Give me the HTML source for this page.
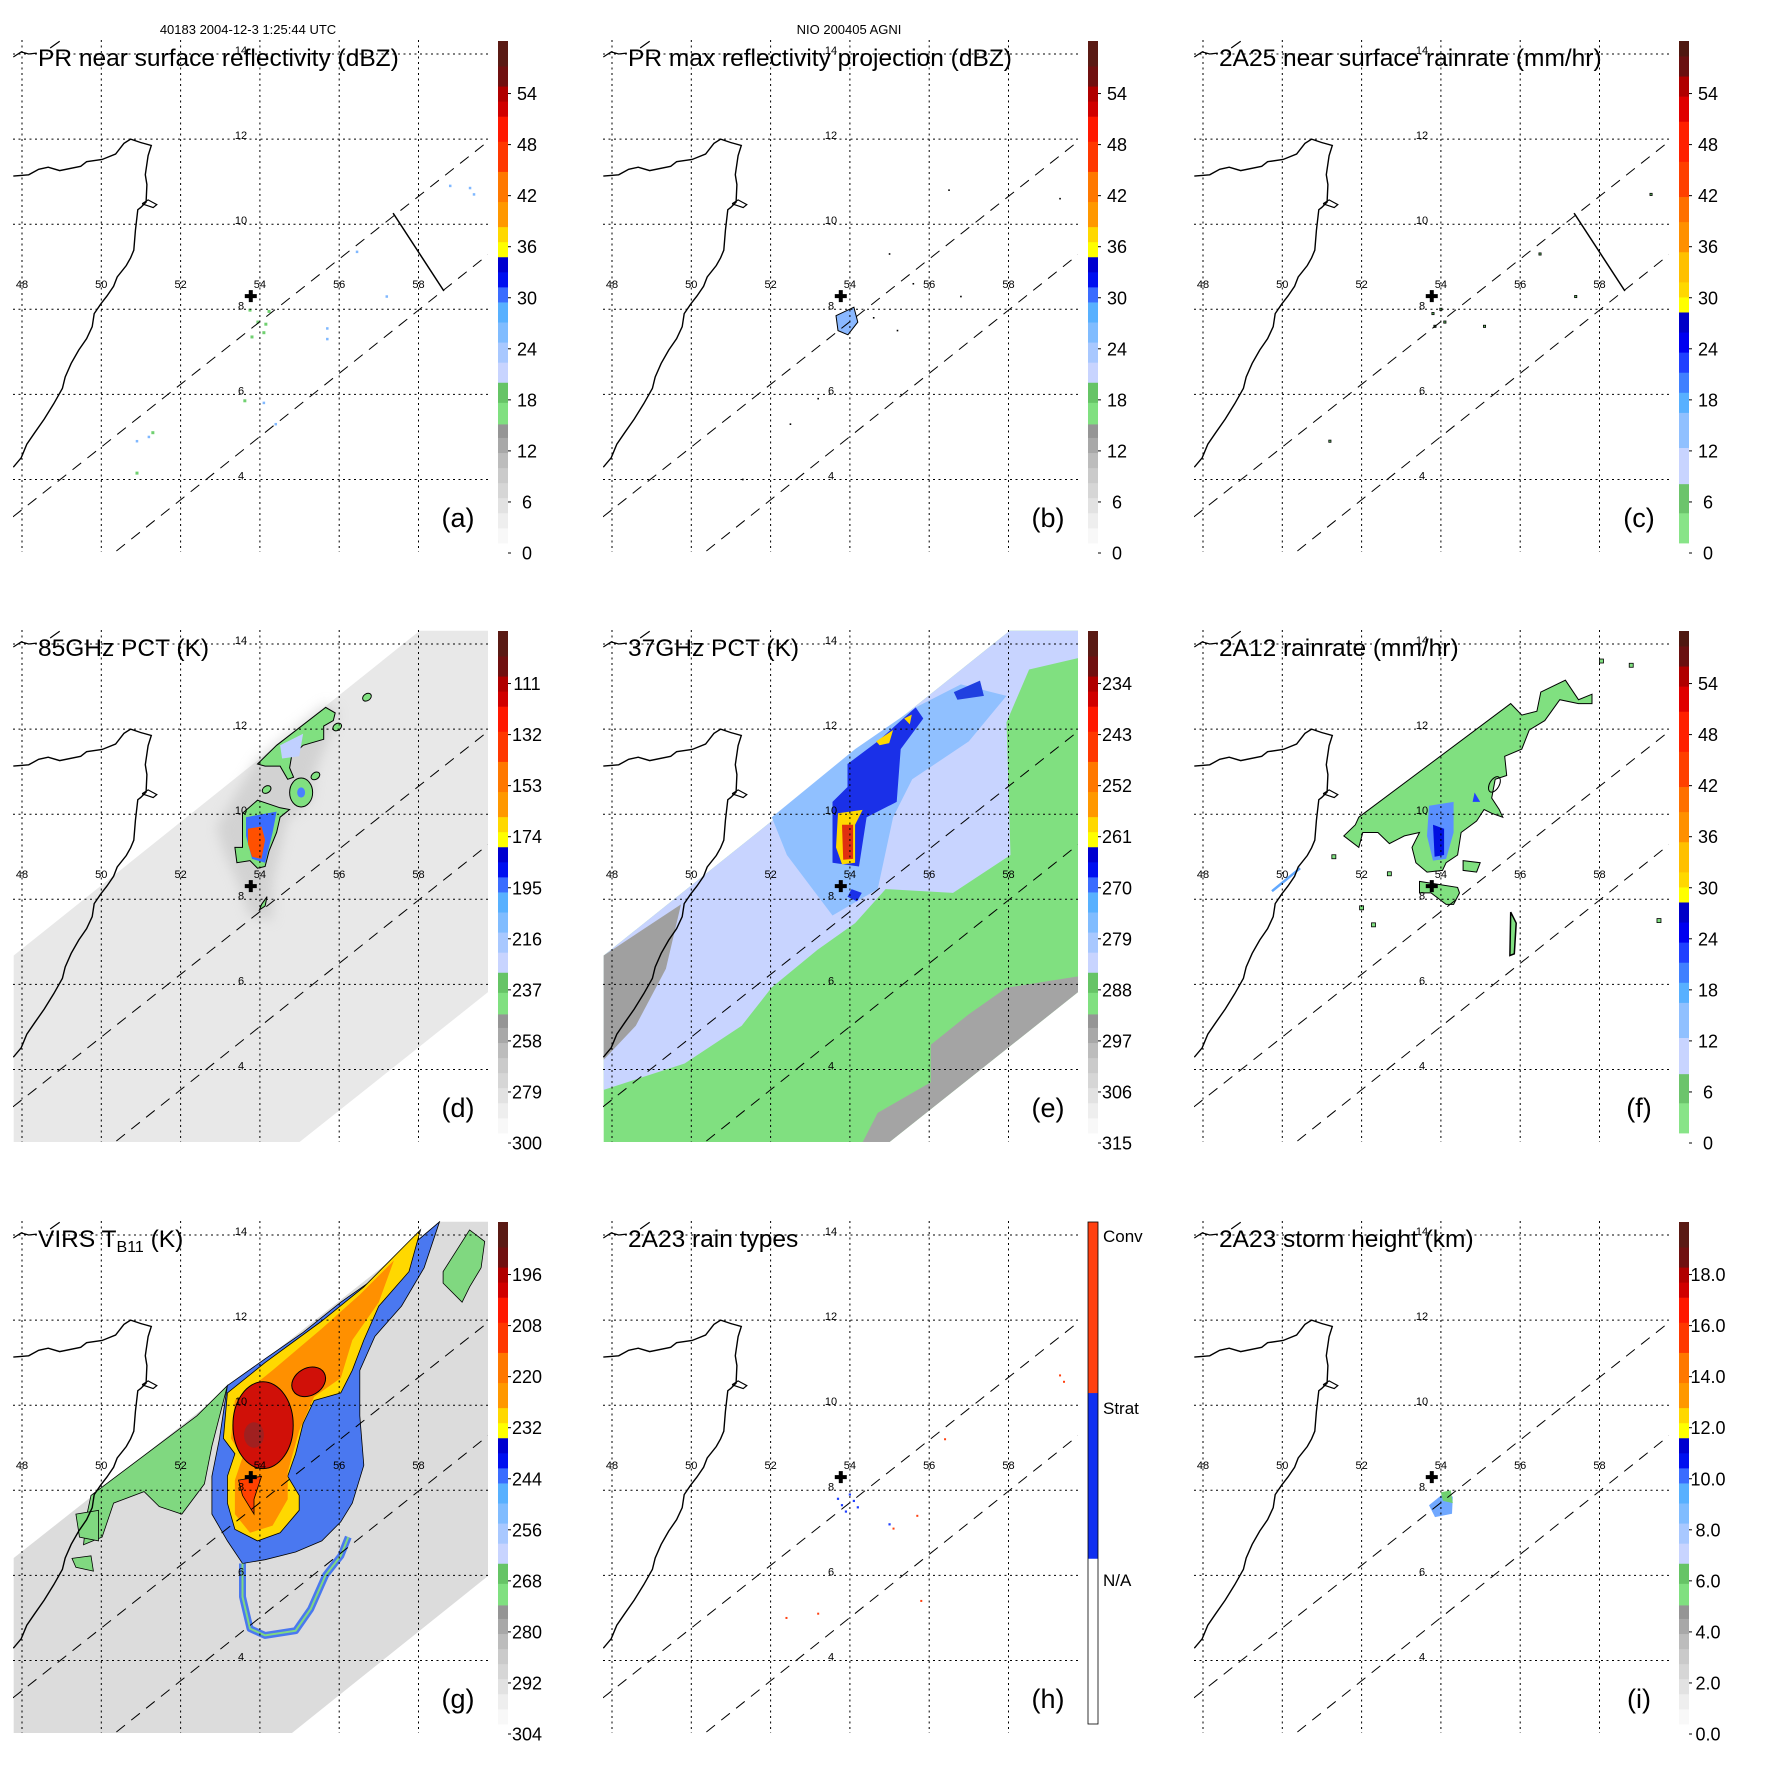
<!DOCTYPE html>
<html><head><meta charset="utf-8"><style>
html,body{margin:0;padding:0;background:#fff;}
svg{display:block;font-family:"Liberation Sans",sans-serif;}
</style></head><body>
<svg id="fig" xmlns="http://www.w3.org/2000/svg" width="1771" height="1771" viewBox="0 0 1771 1771">
<defs><filter id="blur6" x="-50%" y="-50%" width="200%" height="200%"><feGaussianBlur stdDeviation="6"/></filter></defs>
<rect width="1771" height="1771" fill="#fff"/>
</svg>
<script>
// ---------- data ----------
const panelIds=['a','b','c','d','e','f','g','h','i'];
const panelTitles=['PR near surface reflectivity (dBZ)','PR max reflectivity projection (dBZ)','2A25 near surface rainrate (mm/hr)','85GHz PCT (K)','37GHz PCT (K)','2A12 rainrate (mm/hr)','VIRS T','2A23 rain types','2A23 storm height (km)'];
const ticksA=['0','6','12','18','24','30','36','42','48','54'];
const ticksC=['0','6','12','18','24','30','36','42','48','54'];
const ticksD=['300','279','258','237','216','195','174','153','132','111'];
const ticksE=['315','306','297','288','279','270','261','252','243','234'];
const ticksG=['304','292','280','268','256','244','232','220','208','196'];
const ticksI=['0.0','2.0','4.0','6.0','8.0','10.0','12.0','14.0','16.0','18.0'];
const ticksH=['N/A','Strat','Conv'];
const lonTicks=[48,50,52,54,56,58];
const latTicks=[14,12,10,8,6,4];
const palA=[[0,.03,'#f8f8f8'],[.03,.06,'#eeeeee'],[.06,.09,'#e2e2e2'],[.09,.12,'#d6d6d6'],[.12,.15,'#cacaca'],[.15,.18,'#bcbcbc'],[.18,.21,'#a8a8a8'],[.21,.237,'#959595'],[.237,.28,'#80e080'],[.28,.32,'#66c466'],[.32,.36,'#c8d4ff'],[.36,.40,'#a8c8ff'],[.40,.44,'#80bcff'],[.44,.48,'#58b0ff'],[.48,.51,'#3a6cff'],[.51,.54,'#0010f0'],[.54,.57,'#0000d0'],[.57,.60,'#ffff00'],[.60,.63,'#ffd800'],[.63,.68,'#ff9800'],[.68,.74,'#ff7800'],[.74,.80,'#ff3800'],[.80,.85,'#ff1800'],[.85,.88,'#d00000'],[.88,.91,'#b00000'],[.91,.95,'#701010'],[.95,1,'#5a1a14']];
const palR=[[0,.06,'#88e488'],[.06,.118,'#6cc46c'],[.118,.19,'#c8d4ff'],[.19,.26,'#90c0ff'],[.26,.30,'#58b0ff'],[.30,.34,'#4080ff'],[.34,.38,'#2040ff'],[.38,.42,'#0000f0'],[.42,.46,'#0000c8'],[.46,.49,'#ffff00'],[.49,.52,'#ffd800'],[.52,.58,'#ffc000'],[.58,.64,'#ff9000'],[.64,.69,'#ff7000'],[.69,.76,'#ff4000'],[.76,.84,'#ff2000'],[.84,.89,'#e00000'],[.89,.93,'#b00000'],[.93,.97,'#6a1010'],[.97,1,'#501810']];
const palH=[[0,.33,'#ffffff'],[.33,.66,'#1030f0'],[.66,1,'#ff4010']];
const coast=[[47.78,11.13],[48.17,11.16],[48.42,11.29],[48.66,11.34],[48.95,11.26],[49.48,11.36],[49.63,11.47],[50.02,11.52],[50.36,11.65],[50.57,11.9],[50.74,12.0],[50.99,11.92],[51.26,11.85],[51.18,11.61],[51.11,11.16],[51.15,10.93],[51.13,10.52],[50.99,10.39],[50.92,10.34],[50.86,9.85],[50.82,9.39],[50.74,9.21],[50.63,9.03],[50.4,8.76],[50.31,8.54],[50.14,8.31],[49.99,8.13],[49.82,7.9],[49.77,7.59],[49.63,7.31],[49.43,7.04],[49.24,6.73],[49.09,6.41],[49.02,6.14],[48.8,5.78],[48.56,5.42],[48.32,5.1],[48.12,4.83],[47.98,4.51],[47.78,4.29]];
const island=[[51.03,10.48],[51.18,10.57],[51.4,10.46],[51.31,10.39],[51.03,10.48]];
const coastTop=[[47.78,13.93],[47.98,14.05],[48.17,14.0],[48.37,14.02]];
const coastTop2=[[48.71,14.14],[48.95,14.3]];
const swathLine1=[[47.77,3.12],[59.73,11.93]];
const swathLine2=[[50.38,2.32],[59.75,9.28]];
const crossLine=[[57.36,10.26],[58.64,8.43]];
const stormCenter=[53.77,8.31];
const tmiSwath=[[47.79,6.68],[58.03,14.31],[59.77,14.31],[59.77,5.83],[54.99,2.29],[47.79,2.29]];
const virsSwath=[[47.79,6.41],[58.53,14.31],[59.77,14.31],[59.77,6.0],[54.8,2.29],[47.79,2.29]];
const eLight=[[59.77,14.31],[59.77,13.67],[58.52,13.4],[57.95,12.16],[58.05,9.04],[56.6,8.15],[54.9,8.24],[54.13,7.44],[53.18,6.81],[52.03,5.93],[51.27,5.03],[49.83,4.14],[47.79,3.52],[47.79,6.68],[58.03,14.31]];
const eGreyL=[[47.79,6.68],[49.74,7.88],[49.36,6.37],[48.6,5.03],[47.79,4.23]];
const eMid=[[52.03,9.93],[54.13,11.53],[55.66,12.51],[56.8,13.05],[57.95,12.78],[57.0,11.71],[55.57,10.82],[55.09,9.93],[54.7,8.24],[53.56,7.62],[52.41,9.04]];
const eDark=[[53.94,11.18],[54.7,11.71],[55.66,12.51],[55.85,12.25],[55.28,11.53],[55.18,10.29],[54.42,9.93],[54.23,8.77],[53.56,8.86],[53.56,10.29],[53.94,10.64]];
const eDark2=[[54.04,8.24],[54.3,8.15],[54.18,7.95],[53.94,8.06]];
const eDark3=[[56.62,12.87],[57.28,13.14],[57.38,12.78],[56.71,12.69]];
const eYellow=[[53.7,10.02],[54.32,10.1],[54.13,9.75],[54.13,8.86],[53.8,8.82],[53.65,9.22]];
const eRed=[[53.8,9.75],[54.08,9.75],[54.08,8.95],[53.83,8.93]];
const eY2=[[54.66,11.71],[55.09,11.98],[54.99,11.67],[54.75,11.62]];
const eY3=[[55.37,12.25],[55.56,12.34],[55.51,12.11]];
const eGreyR=[[56.04,4.58],[57.0,5.3],[57.95,5.92],[59.77,6.19],[59.77,5.83],[54.99,2.29],[54.32,2.29],[54.7,2.98],[56.04,3.7]];
const dHalo=[[52.9,9.7],[53.94,11.3],[55.66,12.6],[56.0,12.4],[55.4,11.0],[55.3,10.3],[54.7,9.9],[54.32,8.4],[54.32,7.5],[53.75,7.6],[53.4,8.5],[53.1,9.1]];
const dNorth=[[53.94,11.18],[54.42,11.62],[55.66,12.51],[55.9,12.38],[55.85,12.2],[55.61,12.07],[55.61,11.76],[55.09,11.62],[54.8,11.36],[54.75,11.09],[54.85,10.87],[54.7,10.82],[54.51,11.13],[54.13,11.13]];
const dNorthBlue=[[54.51,11.62],[55.09,11.89],[54.99,11.36],[54.56,11.31]];
const dMain=[[53.56,10.02],[53.94,10.33],[54.51,10.15],[54.75,10.11],[54.51,9.93],[54.42,9.57],[54.23,9.13],[54.13,8.77],[53.94,8.73],[53.75,8.91],[53.42,8.86],[53.37,9.22],[53.56,9.22],[53.56,9.66]];
const dMainBlue=[[53.65,9.93],[54.42,10.06],[54.32,9.57],[54.13,8.86],[53.8,8.95],[53.65,9.49]];
const dMainRed=[[53.7,9.66],[54.04,9.71],[54.13,9.4],[54.04,8.95],[53.8,9.0],[53.7,9.3]];
const dSouth=[[54.04,7.88],[54.18,8.06],[54.13,7.84],[53.99,7.75]];
const dMid=[55.04,10.51];
const dSmall=[[56.7,12.75],[55.95,12.05],[54.17,10.58],[55.4,10.9]];
const fGreen=[[51.93,9.93],[55.76,12.6],[56.04,12.33],[56.42,12.42],[56.52,12.87],[57.14,13.15],[57.47,12.69],[57.81,12.82],[57.81,12.6],[57.47,12.6],[57.0,12.69],[56.62,12.2],[56.23,11.98],[56.04,11.53],[55.61,11.36],[55.66,10.91],[55.37,10.82],[55.28,10.38],[55.47,10.11],[55.56,9.93],[55.28,10.02],[55.09,10.11],[54.9,9.84],[54.51,9.57],[54.42,9.04],[54.13,8.86],[54.04,8.68],[53.65,8.64],[53.37,8.86],[53.27,9.22],[53.46,9.57],[53.08,9.49],[52.7,9.31],[52.41,9.57],[52.03,9.57],[51.93,9.22],[51.55,9.49],[51.84,9.75]];
const fBlue=[[53.7,10.2],[54.32,10.29],[54.32,9.57],[54.13,8.95],[53.8,8.91],[53.65,9.49]];
const fDark=[[53.8,9.75],[54.08,9.66],[54.08,9.04],[53.84,9.0]];
const fBlue2=[[54.85,10.51],[54.99,10.29],[54.8,10.29]];
const fSouth=[[53.46,8.42],[54.42,8.28],[54.47,8.15],[54.32,7.88],[54.13,7.88],[53.75,8.15],[53.46,8.15]];
const fSmall=[[54.56,8.91],[54.99,8.86],[54.9,8.64],[54.56,8.68]];
const fLong=[[55.76,7.7],[55.9,7.44],[55.85,6.72],[55.74,6.68]];
const fDots=[[58.05,13.6],[58.8,13.5],[52.0,7.8],[52.3,7.4],[59.5,7.5],[51.3,9.0],[52.7,8.6]];
const fLine=[[49.74,8.19],[50.45,8.73]];
const gGreen=[[49.74,7.88],[52.41,9.75],[53.18,10.46],[52.79,9.04],[52.6,8.15],[52.03,7.44],[51.46,7.62],[51.08,7.97],[50.31,7.7],[50.02,6.9],[49.55,6.72],[49.64,7.44]];
const gBlue=[[53.18,10.46],[54.13,11.09],[55.09,11.71],[56.04,12.42],[57.0,13.05],[57.95,13.85],[58.53,14.31],[58.14,13.23],[57.57,12.33],[56.9,11.62],[56.52,10.82],[56.52,9.75],[56.62,8.59],[56.33,7.7],[56.04,7.26],[55.56,6.81],[54.9,6.55],[54.13,6.37],[53.56,6.28],[53.18,6.81],[52.79,7.44],[52.79,8.33],[52.98,9.22]];
const gYellow=[[53.18,10.29],[54.13,11.0],[55.56,11.98],[56.62,12.78],[57.76,13.85],[58.05,14.12],[57.76,13.14],[57.0,12.33],[56.62,11.53],[56.33,10.82],[56.04,10.29],[55.37,10.11],[55.09,9.57],[54.9,8.86],[54.7,8.33],[54.99,7.88],[54.99,7.53],[54.51,7.0],[53.94,6.81],[53.37,7.08],[53.18,7.7],[53.18,8.33],[53.37,8.86],[53.08,9.22]];
const gOrange=[[53.37,10.11],[54.32,10.82],[55.56,11.8],[56.52,12.6],[57.38,13.4],[57.0,12.42],[56.33,11.53],[56.04,10.64],[55.37,10.2],[54.99,9.4],[54.7,8.42],[54.7,7.79],[54.32,7.17],[53.75,7.0],[53.37,7.44],[53.37,8.24],[53.56,8.77],[53.27,9.22]];
const gRedBig=[54.08,9.53];
const gRed2=[55.23,10.55];
const gRedLow=[[53.46,8.24],[54.04,8.33],[53.85,7.79],[53.85,7.44],[53.56,7.88]];
const gRing=[[53.56,6.28],[53.56,5.5],[53.75,4.75],[54.13,4.59],[54.9,4.7],[55.28,5.21],[55.66,6.01],[56.04,6.46],[56.23,6.9]];
const gNE=[[58.62,13.14],[59.29,14.12],[59.67,13.85],[59.58,13.23],[59.29,12.78],[59.1,12.42],[58.62,12.87]];
const gLeft1=[[49.36,7.44],[49.93,7.53],[49.93,6.81],[49.45,6.9]];
const gLeft2=[[49.26,6.4],[49.74,6.46],[49.8,6.1],[49.36,6.19]];
const aGreen=[[53.75,7.98],[54.23,7.95],[54.1,7.45],[53.8,7.35],[53.95,7.7],[54.15,7.65],[53.62,5.85],[51.3,5.1],[50.9,4.15]];
const aBlue=[[58.8,10.9],[59.3,10.85],[59.4,10.7],[56.45,9.35],[57.2,8.3],[55.7,7.55],[55.7,7.3],[50.9,4.9],[51.2,5.0],[54.4,5.3],[54.1,5.8]];
const bBlob=[[53.65,7.85],[54.1,8.05],[54.2,7.7],[53.95,7.4],[53.7,7.5]];
const bDots=[[56.5,10.8],[59.3,10.6],[55.0,9.3],[55.6,8.6],[54.6,7.8],[55.2,7.5],[56.8,8.3],[53.2,5.9],[52.5,5.3],[51.3,4.0]];
const cDots=[[53.8,7.9],[54.0,8.0],[54.1,7.7],[53.85,7.6],[55.1,7.6],[59.3,10.7],[56.5,9.3],[57.4,8.3],[51.2,4.9]];
const hBlue=[[53.7,7.8],[54.0,7.9],[54.2,7.6],[53.9,7.5],[53.8,7.65],[54.1,7.75],[55.0,7.2]];
const hRed=[[59.3,10.7],[59.4,10.55],[56.4,9.2],[55.7,7.4],[55.1,7.1],[53.2,5.1],[52.4,5.0],[55.8,5.4]];
const iBlob=[[53.7,7.65],[54.1,7.95],[54.3,7.85],[54.28,7.45],[53.85,7.37]];
const iGreen=[[54.0,7.95],[54.25,8.0],[54.3,7.7],[54.05,7.75]];

// ---------- helpers ----------
const NS='http://www.w3.org/2000/svg';
const svg=document.getElementById('fig');
function X(lon){return 22+(lon-48)*39.65;}
function Y(lat){return 54+(14-lat)*42.55;}
function pts(a){return a.map(p=>X(p[0]).toFixed(1)+','+Y(p[1]).toFixed(1)).join(' ');}
function mk(tag,parent,attrs){const e=document.createElementNS(NS,tag);for(const k in attrs)e.setAttribute(k,attrs[k]);parent.appendChild(e);return e;}
function poly(g,a,fill,stroke,sw,name){const e=mk('polygon',g,{points:pts(a),fill:fill,stroke:stroke||'none','stroke-width':sw||1});


return e;}
function line(g,a,attrs,name){const e=mk('polyline',g,Object.assign({points:pts(a),fill:'none'},attrs));


return e;}
function dots(g,a,fill,s,name,stroke){a.forEach(p=>{const e=mk('rect',g,{x:X(p[0])-s/2,y:Y(p[1])-s/2,width:s,height:s,fill:fill,stroke:stroke||'none','stroke-width':0.8});

});}
function ell(g,c,rx,ry,rot,fill,stroke,name){const e=mk('ellipse',g,{cx:X(c[0]),cy:Y(c[1]),rx:rx*39.65,ry:ry*42.55,fill:fill,stroke:stroke||'none','stroke-width':1,transform:'rotate('+rot+' '+X(c[0])+' '+Y(c[1])+')'});


return e;}

const offs=[0,590,1181];
const BAR={x:498,w:10,top:41,bot:543};

function colorbar(g,pal,ticks,id){
  const cb=mk('g',g,{});
  
  
  const H=BAR.bot-BAR.top;
  pal.forEach(b=>{const r=mk('rect',cb,{x:BAR.x,y:BAR.bot-b[1]*H,width:BAR.w,height:(b[1]-b[0])*H+0.4,fill:b[2]});
    
    });
  if(id==='h'){
    const o=mk('rect',cb,{x:BAR.x,y:BAR.top,width:BAR.w,height:H,fill:'none',stroke:'#000','stroke-width':0.8});
    
    
    const ys=[399,227,55];
    ticks.forEach((t,i)=>{const tx=mk('text',cb,{x:513,y:ys[i]+6,'font-size':17,fill:'#000'});tx.textContent=t;
      
      });
    return;
  }
  ticks.forEach((t,i)=>{
    const cy=553-i*51.05;
    const tk=mk('line',cb,{x1:BAR.x+BAR.w,x2:BAR.x+BAR.w+3,y1:cy,y2:cy,stroke:'#000','stroke-width':1});
    
    
    const tx=mk('text',cb,{x:527,y:cy+6.5,'font-size':18,'text-anchor':'middle',fill:'#000'});
    tx.textContent=t;
    
    
  });
}

function content(id,g){
  if(id==='a'){dots(g,aGreen,'#70d070',3,'echo-pixel');dots(g,aBlue,'#80b8ff',2.5,'echo-pixel');}
  if(id==='b'){poly(g,bBlob,'#8ab8ff','#000',1,'echo-blob');dots(g,bDots,'#000',1.6,'echo-pixel');}
  if(id==='c'){dots(g,cDots,'#60c060',2.2,'echo-pixel','#000');}
  if(id==='d'){
    poly(g,tmiSwath,'#e8e8e8','none',1,'tmi-swath');
    const h=poly(g,dHalo,'#c4c4c4','none',1,'cold-halo');h.setAttribute('filter','url(#blur6)');h.setAttribute('opacity','0.6');
    poly(g,dNorth,'#80e080','#000',1,'green-blob-north');
    poly(g,dNorthBlue,'#c0d0ff','none',1,'blue-patch');
    ell(g,dMid,0.29,0.34,0,'#80e080','#000','green-blob-mid');
    ell(g,dMid,0.1,0.12,0,'#4a80ff','none','blue-core-mid');
    poly(g,dMain,'#80e080','#000',1,'green-blob-main');
    poly(g,dMainBlue,'#3a6cff','none',1,'blue-core-main');
    poly(g,dMainRed,'#ff5000','none',1,'red-core-main');
    poly(g,dSouth,'#80e080','#000',1,'green-blob-south');
    dSmall.forEach(p=>ell(g,p,0.12,0.08,-35,'#80e080','#000','green-blob-small'));
  }
  if(id==='e'){
    poly(g,tmiSwath,'#80e080','none',1,'tmi-swath');
    poly(g,eGreyR,'#a4a4a4','none',1,'grey-region');
    poly(g,eLight,'#c8d4ff','none',1,'lightblue-region');
    poly(g,eGreyL,'#a0a0a0','none',1,'grey-land');
    poly(g,eMid,'#90c0ff','none',1,'midblue-region');
    poly(g,eDark,'#1a30e8','none',1,'darkblue-region');
    poly(g,eDark2,'#1a30e8','none',1,'darkblue-region');
    poly(g,eDark3,'#2040e0','none',1,'darkblue-region');
    poly(g,eYellow,'#ffd800','none',1,'yellow-core');
    poly(g,eRed,'#e03010','none',1,'red-core');
    poly(g,eY2,'#ffd800','none',1,'yellow-spot');
    poly(g,eY3,'#ffd800','none',1,'yellow-spot');
  }
  if(id==='f'){
    poly(g,fGreen,'#80e080','#000',1,'rain-area');
    poly(g,fBlue,'#5a90ff','none',1,'blue-core');
    poly(g,fDark,'#0010e0','none',1,'darkblue-core');
    poly(g,fBlue2,'#2040ff','none',1,'blue-spot');
    poly(g,fSouth,'#80e080','#000',1,'rain-blob-south');
    poly(g,fSmall,'#80e080','#000',1,'rain-blob');
    poly(g,fLong,'#80e080','#000',1.5,'rain-blob-long');
    dots(g,fDots,'#80e080',4,'rain-pixel','#000');
    ell(g,[55.35,10.7],0.12,0.2,30,'none','#000','contour-ring');
    line(g,fLine,{stroke:'#60a8ff','stroke-width':2.5},'blue-streak');
  }
  if(id==='g'){
    poly(g,virsSwath,'#dcdcdc','none',1,'virs-swath');
    poly(g,gGreen,'#80d880','#000',0.8,'green-band');
    poly(g,gBlue,'#4a78f0','#000',0.8,'blue-envelope');
    poly(g,gYellow,'#ffd800','#000',0.8,'yellow-area');
    poly(g,gOrange,'#ff9000','none',1,'orange-area');
    ell(g,gRedBig,0.76,1.02,0,'#d01008','#000','red-core-large');
    ell(g,[53.85,9.3],0.25,0.3,0,'#a02020','none','darkred-core');
    ell(g,gRed2,0.45,0.32,-30,'#d01008','#000','red-core-2');
    poly(g,gRedLow,'#ff4000','#000',0.8,'red-core-low');
    line(g,gRing,{stroke:'#4a78f0','stroke-width':7,'stroke-linejoin':'round'},'outer-band');
    line(g,gRing,{stroke:'#80d880','stroke-width':2},'outer-band-green');
    poly(g,gNE,'#80d880','#000',0.8,'green-blob-ne');
    poly(g,gLeft1,'#80d880','#000',0.8,'green-blob-west');
    poly(g,gLeft2,'#80d880','#000',0.8,'green-blob-west');
  }
  if(id==='h'){dots(g,hBlue,'#2040ff',2.2,'conv-pixel');dots(g,hRed,'#ff4010',2,'strat-pixel');}
  if(id==='i'){poly(g,iBlob,'#70a8ff','none',1,'echo-blob');poly(g,iGreen,'#70d070','none',1,'echo-blob');}
}

const pals={a:palA,b:palA,c:palR,d:palA,e:palA,f:palR,g:palA,h:palH,i:palA};
const tks={a:ticksA,b:ticksA,c:ticksC,d:ticksD,e:ticksE,f:ticksC,g:ticksG,h:ticksH,i:ticksI};

panelIds.forEach((id,k)=>{
  const ox=offs[k%3], oy=offs[Math.floor(k/3)];
  const g=mk('g',svg,{transform:'translate('+ox+','+oy+')'});
  
  
  const cp=mk('clipPath',g,{id:'clip-'+id});
  mk('rect',cp,{x:13,y:40,width:475,height:512});
  const map=mk('g',g,{'clip-path':'url(#clip-'+id+')'});
  
  
  content(id,map);
  lonTicks.forEach(l=>{const e=mk('line',map,{x1:X(l),x2:X(l),y1:40,y2:552,stroke:'#000','stroke-width':1,'stroke-dasharray':'2,3.5'});
    
    });
  latTicks.forEach(l=>{const e=mk('line',map,{x1:13,x2:488,y1:Y(l),y2:Y(l),stroke:'#000','stroke-width':1,'stroke-dasharray':'2,3.5'});
    
    });
  line(map,swathLine1,{stroke:'#000','stroke-width':1,'stroke-dasharray':'11,8'},'pr-swath-edge');
  line(map,swathLine2,{stroke:'#000','stroke-width':1,'stroke-dasharray':'11,8'},'pr-swath-edge');
  if(id==='a'||id==='c') line(map,crossLine,{stroke:'#000','stroke-width':1.5},'cross-section-line');
  line(map,coast,{stroke:'#000','stroke-width':1.4},'coastline');
  line(map,island,{stroke:'#000','stroke-width':1.2},'island');
  line(map,coastTop,{stroke:'#000','stroke-width':1.2},'coastline');
  line(map,coastTop2,{stroke:'#000','stroke-width':1.2},'coastline');
  const cx=X(stormCenter[0]), cy=Y(stormCenter[1]);
  const c1=mk('rect',map,{x:cx-6,y:cy-2,width:12,height:4,fill:'#000'});
  
  
  const c2=mk('rect',map,{x:cx-2,y:cy-6,width:4,height:12,fill:'#000'});
  
  
  latTicks.forEach(l=>{const t=mk('text',g,{x:241,y:Y(l),'font-size':11,'text-anchor':'middle'});t.textContent=String(l);
    
    });
  lonTicks.forEach(l=>{const t=mk('text',g,{x:X(l),y:288,'font-size':11,'text-anchor':'middle'});t.textContent=String(l);
    
    });
  const tt=mk('text',g,{x:38,y:66,'font-size':24.5,fill:'#000'});
  
  
  if(id==='g'){
    tt.textContent='VIRS T';
    const sub=mk('tspan',tt,{'font-size':16,dy:5});sub.textContent='B11';
    
    
    const rest=mk('tspan',tt,{dy:-5});rest.textContent=' (K)';
    
    
  } else tt.textContent=panelTitles[k];
  const pl=mk('text',g,{x:458,y:527,'font-size':27,'text-anchor':'middle'});
  pl.textContent='('+id+')';
  
  
  colorbar(g,pals[id],tks[id],id);
});
const h1=mk('text',svg,{x:248,y:34,'font-size':13,'text-anchor':'middle'});
h1.textContent='40183 2004-12-3 1:25:44 UTC';


const h2=mk('text',svg,{x:849,y:34,'font-size':13,'text-anchor':'middle'});
h2.textContent='NIO 200405 AGNI';


</script>
</body></html>
